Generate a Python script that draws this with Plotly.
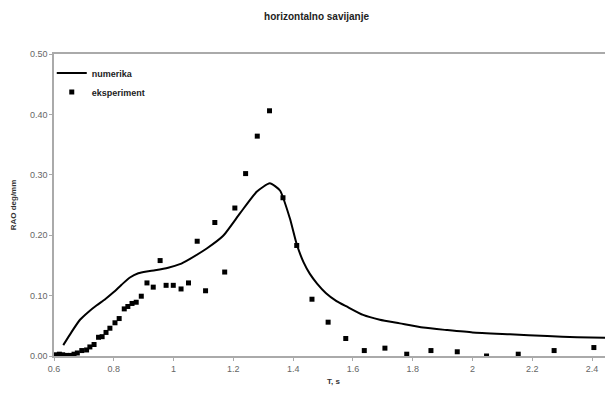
import plotly.graph_objects as go

# numerika (line)
num_T = [0.631, 0.659, 0.687, 0.715, 0.743, 0.771, 0.798, 0.826, 0.854, 0.882, 0.910, 0.938,
         0.982, 1.021, 1.055, 1.111, 1.166, 1.222, 1.278, 1.322, 1.356, 1.389, 1.412, 1.435,
         1.456, 1.48, 1.51, 1.545, 1.579, 1.634, 1.69, 1.757, 1.835, 1.913, 2.0, 2.125, 2.25,
         2.35, 2.47]
num_RAO = [0.018, 0.040, 0.060, 0.073, 0.084, 0.094, 0.105, 0.118, 0.130, 0.137, 0.140, 0.142,
           0.146, 0.152, 0.161, 0.178, 0.199, 0.236, 0.272, 0.286, 0.274, 0.228, 0.185, 0.155,
           0.136, 0.120, 0.104, 0.091, 0.082, 0.068, 0.060, 0.054, 0.047, 0.043, 0.039, 0.036,
           0.033, 0.031, 0.030]

# eksperiment (points)
exp_T = [0.603, 0.618, 0.629, 0.642, 0.656, 0.667, 0.678, 0.693, 0.709, 0.720, 0.734, 0.749,
         0.761, 0.774, 0.787, 0.804, 0.818, 0.835, 0.847, 0.861, 0.875, 0.892, 0.911, 0.932,
         0.955, 0.975, 0.999, 1.025, 1.050, 1.079, 1.107, 1.138, 1.171, 1.205, 1.241, 1.280,
         1.321, 1.366, 1.412, 1.463, 1.517, 1.576, 1.638, 1.707, 1.780, 1.861, 1.949, 2.047,
         2.153, 2.273, 2.406]
exp_RAO = [0.002, 0.003, 0.002, 0.001, 0.001, 0.003, 0.005, 0.009, 0.010, 0.015, 0.019, 0.031,
           0.032, 0.039, 0.046, 0.055, 0.062, 0.078, 0.082, 0.087, 0.089, 0.099, 0.121, 0.114,
           0.158, 0.117, 0.117, 0.111, 0.121, 0.190, 0.108, 0.221, 0.139, 0.245, 0.302, 0.364,
           0.406, 0.262, 0.183, 0.094, 0.056, 0.029, 0.009, 0.013, 0.003, 0.009, 0.007, 0.000,
           0.003, 0.009, 0.014]

x_ticks = [0.6, 0.8, 1.0, 1.2, 1.4, 1.6, 1.8, 2.0, 2.2, 2.4]
x_tick_labels = ["0.6", "0.8", "1", "1.2", "1.4", "1.6", "1.8", "2", "2.2", "2.4"]
y_ticks = [0.0, 0.1, 0.2, 0.3, 0.4, 0.5]
y_tick_labels = ["0.00", "0.10", "0.20", "0.30", "0.40", "0.50"]

FONT = "Liberation Sans, Arial, sans-serif"

fig = go.Figure()
fig.add_trace(go.Scatter(x=num_T, y=num_RAO, mode="lines", name="numerika",
                         line=dict(color="black", width=2, shape="spline", smoothing=0.5)))
fig.add_trace(go.Scatter(x=exp_T, y=exp_RAO, mode="markers", name="eksperiment",
                         marker=dict(symbol="square", size=5, color="black")))

fig.update_layout(
    width=605, height=386,
    paper_bgcolor="white", plot_bgcolor="white",
    margin=dict(l=46, r=0, t=46, b=38),
    title=dict(text="<b>horizontalno savijanje</b>", x=0.51, xanchor="center", y=0.977,
               yanchor="middle", font=dict(family=FONT, size=10, color="#222")),
    font=dict(family=FONT, size=9, color="#555"),
    showlegend=True,
    legend=dict(x=-0.004, y=0.985, xanchor="left", yanchor="top", bgcolor="rgba(0,0,0,0)",
                font=dict(family=FONT, size=9, color="#222", weight="bold"),
                itemwidth=30, tracegroupgap=0),
    xaxis=dict(range=[0.6, 2.47], tickvals=x_ticks, ticktext=x_tick_labels,
               showgrid=False, zeroline=False, showline=True, linecolor="#aaa", linewidth=1.5,
               mirror=True, ticks="outside", ticklen=3, tickcolor="#aaa",
               tickfont=dict(family=FONT, size=9, color="#666"),
               title=dict(text="<b>T, s</b>", standoff=6,
                          font=dict(family=FONT, size=8, color="#333"))),
    yaxis=dict(range=[0, 0.5], tickvals=y_ticks, ticktext=y_tick_labels,
               showgrid=False, zeroline=False, showline=True, linecolor="#aaa", linewidth=1.5,
               ticks="outside", ticklen=3, tickcolor="#aaa",
               tickfont=dict(family=FONT, size=9, color="#666"),
               title=dict(text="<b>RAO deg/mm</b>", standoff=12,
                          font=dict(family=FONT, size=8, color="#333"))),
)

fig.write_html("out.html")
